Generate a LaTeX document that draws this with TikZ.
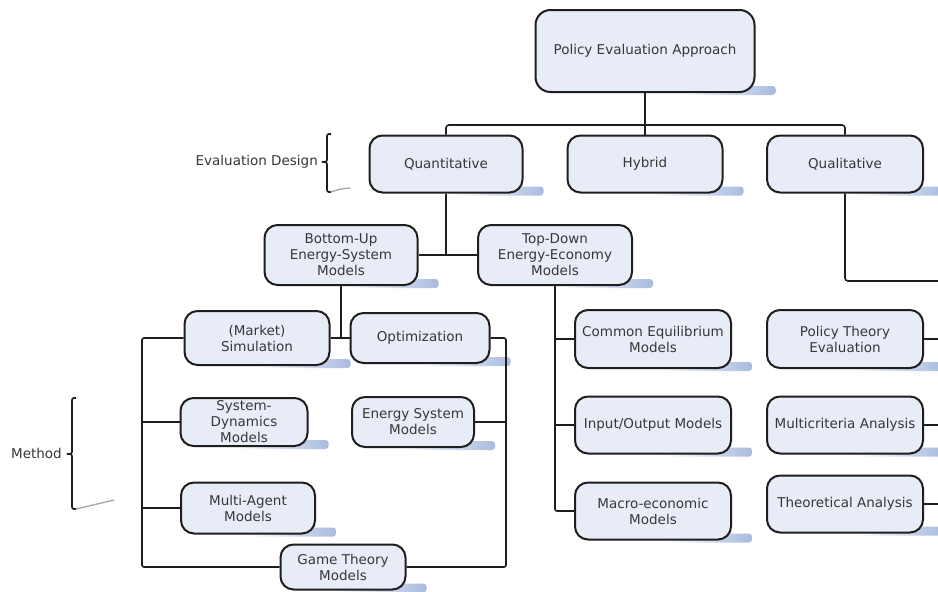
\documentclass[tikz,border=0pt]{standalone}
\usepackage{fontspec}
\setmainfont{DejaVu Sans}
\usetikzlibrary{backgrounds,calc}
\definecolor{boxfill}{RGB}{232,236,246}
\definecolor{shadowblue}{RGB}{168,186,222}
\definecolor{txt}{RGB}{55,55,55}
\definecolor{edge}{RGB}{30,30,30}
\newcommand\boxshadow[1]{\shade[left color=white, right color=shadowblue, rounded corners=3pt] ($(#1.south east)+(-70,-7)$) rectangle ($(#1.south east)+(20,2)$);}
\begin{document}
\begin{tikzpicture}[x=1pt,y=-1pt,
  box/.style={draw=edge, line width=2pt, rounded corners=13pt, fill=boxfill, text=txt,
    align=center, inner sep=0pt, font=\fontsize{13.5}{16}\selectfont},
  conn/.style={draw=edge, line width=1.6pt},
  brc/.style={draw=edge, line width=1.7pt},
  swoosh/.style={draw=gray!70, line width=1.3pt, line cap=round},
  lbl/.style={text=txt, anchor=east, inner sep=0pt, font=\fontsize{13.5}{16}\selectfont}]
\useasboundingbox (0,0) rectangle (938,592);

% nodes
\node[box, rounded corners=15pt, minimum width=219pt, minimum height=82pt] (pea) at (645,51) {Policy Evaluation Approach};
\node[box, minimum width=153pt, minimum height=57pt] (quant) at (446,164) {Quantitative};
\node[box, minimum width=155pt, minimum height=57pt] (hybrid) at (645,164) {Hybrid};
\node[box, minimum width=156pt, minimum height=57pt] (qual) at (845,164) {Qualitative};
\node[box, minimum width=153pt, minimum height=60pt] (bu) at (341,255) {Bottom-Up\\Energy-System\\Models};
\node[box, minimum width=154pt, minimum height=60pt] (td) at (555,255) {Top-Down\\Energy-Economy\\Models};
\node[box, minimum width=145pt, minimum height=54pt] (sim) at (257,338) {(Market)\\Simulation};
\node[box, minimum width=139pt, minimum height=50pt] (opt) at (420,338) {Optimization};
\node[box, minimum width=127pt, minimum height=48pt] (sd) at (244,422) {System-\\Dynamics\\Models};
\node[box, minimum width=122pt, minimum height=50pt] (es) at (413,422) {Energy System\\Models};
\node[box, minimum width=134pt, minimum height=51pt] (ma) at (248,508) {Multi-Agent\\Models};
\node[box, minimum width=125pt, minimum height=45pt] (gt) at (343,567) {Game Theory\\Models};
\node[box, minimum width=156pt, minimum height=58pt] (ce) at (653,339) {Common Equilibrium\\Models};
\node[box, minimum width=156pt, minimum height=57pt] (io) at (653,425) {Input/Output Models};
\node[box, minimum width=156pt, minimum height=57pt] (me) at (653,511) {Macro-economic\\Models};
\node[box, minimum width=156pt, minimum height=58pt] (pte) at (845,339) {Policy Theory\\Evaluation};
\node[box, minimum width=156pt, minimum height=57pt] (mca) at (845,425) {Multicriteria Analysis};
\node[box, minimum width=156pt, minimum height=57pt] (ta) at (845,504) {Theoretical Analysis};

% labels
\node[lbl] (lab1) at (318,162) {Evaluation Design};
\node[lbl] (lab2) at (62,453) {Method};

% shadows and background
\begin{pgfonlayer}{background}
\fill[white] (0,0) rectangle (938,592);
\foreach \n in {pea,quant,hybrid,qual,bu,td,sim,opt,sd,es,ma,gt,ce,io,me,pte,mca,ta}{\boxshadow{\n}}
\end{pgfonlayer}

% connectors
\coordinate (j0) at (645,125);
\draw[conn] (pea.south) -- (hybrid.north);
\draw[conn, rounded corners=3pt] (quant.north) |- (j0) -| (qual.north);
\coordinate (j1) at (446,255);
\draw[conn] (quant.south) -- (j1);
\draw[conn] (bu.east) -- (td.west);
\draw[conn] (bu.south) -- (bu.south |- sim.east);
\draw[conn] (sim.east) -- (opt.west);
\coordinate (lb) at (142,567);
\draw[conn, rounded corners=2pt] (sim.west) -| (lb) -- (gt.west);
\draw[conn] (sd.west) -- (sd.west -| lb);
\draw[conn] (ma.west) -- (ma.west -| lb);
\coordinate (rb) at (506,567);
\draw[conn, rounded corners=2pt] (opt.east) -| (rb) -- (gt.east);
\draw[conn] (es.east) -- (es.east -| rb);
\draw[conn, rounded corners=2pt] (td.south) |- (me.west);
\draw[conn] (ce.west) -- (ce.west -| td.south);
\draw[conn] (io.west) -- (io.west -| td.south);
\coordinate (qr) at (938,281);
\draw[conn, rounded corners=3pt] (qual.south) |- (qr);
\draw[conn] (pte.east) -- (pte.east -| qr);
\draw[conn] (mca.east) -- (mca.east -| qr);
\draw[conn] (ta.east) -- (ta.east -| qr);

% braces
\draw[brc] (331,134) .. controls (327,134) .. (327,139) -- (327,157) .. controls (327,162) .. (322,162) .. controls (327,162) .. (327,167) -- (327,187) .. controls (327,192) .. (331,192);
\draw[swoosh] (331,192) .. controls (340,189) .. (350,188);
\draw[brc] (76,398) .. controls (72,398) .. (72,403) -- (72,449) .. controls (72,454) .. (67,454) .. controls (72,454) .. (72,459) -- (72,504) .. controls (72,509) .. (76,509);
\draw[swoosh] (76,509) .. controls (95,504) .. (114,500);
\end{tikzpicture}
\end{document}
